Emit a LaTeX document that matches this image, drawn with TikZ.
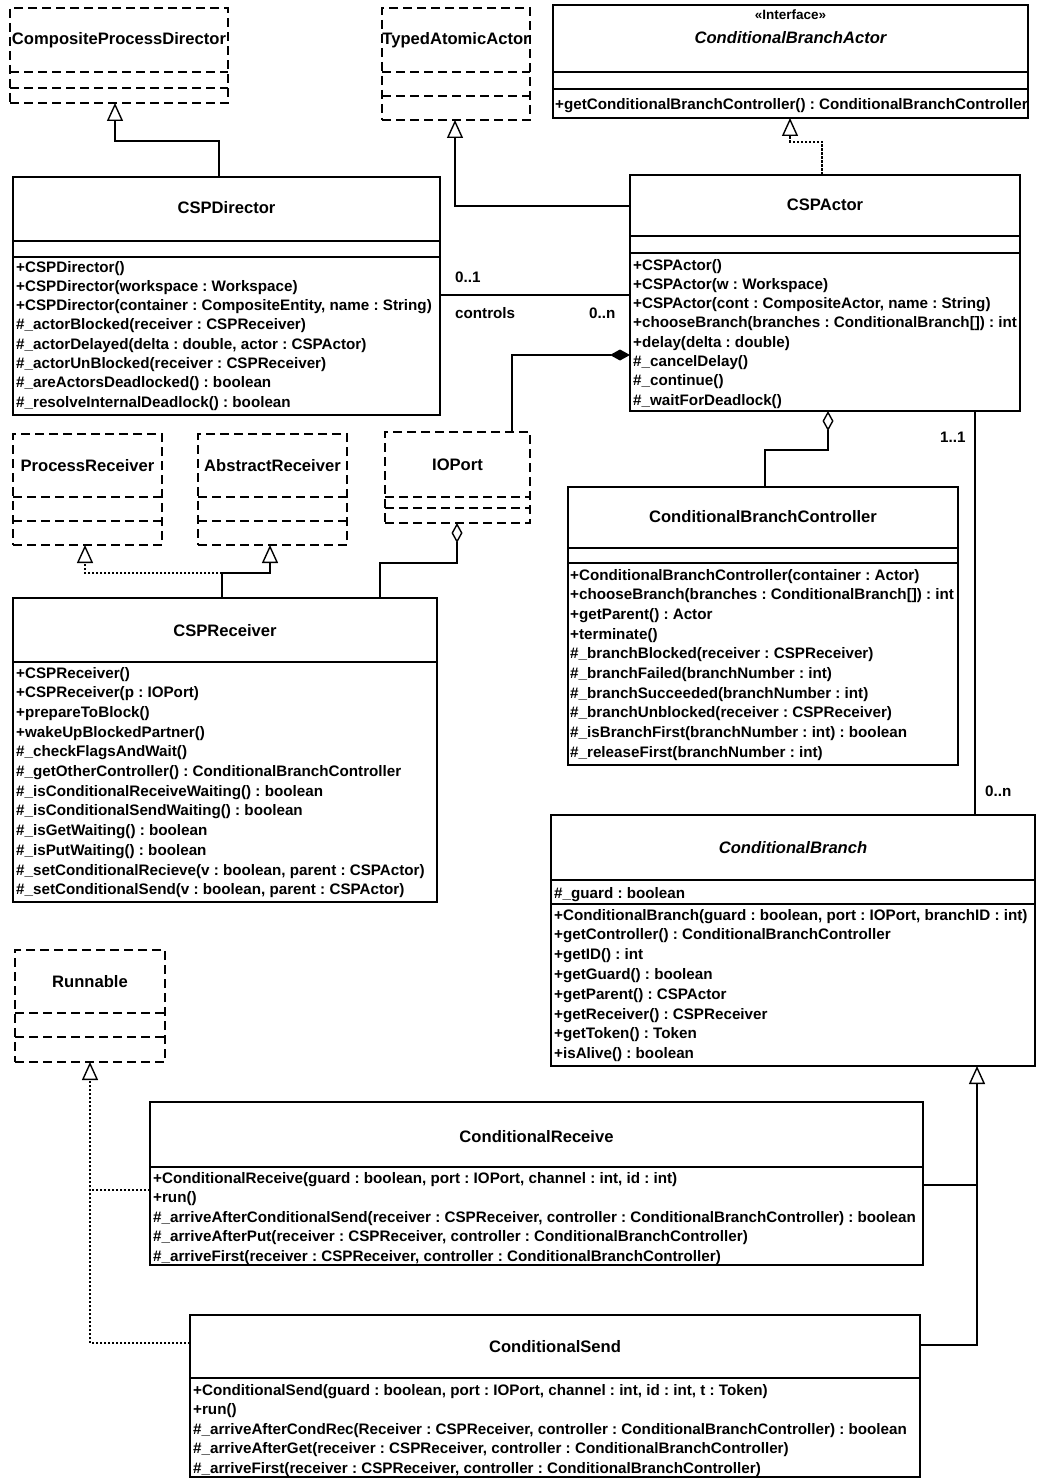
\documentclass[tikz,border=0pt]{standalone}
\usepackage{fontspec}
\setmainfont{Liberation Sans}
\usetikzlibrary{arrows.meta,calc}
\newcommand\mfont{\fontsize{15.2}{19}\selectfont\bfseries}
\newcommand\tfont{\fontsize{16.6}{20}\selectfont\bfseries}
\newcommand\sfont{\fontsize{13.5}{16}\selectfont\bfseries}
% box: [style]{name}{x1}{y1}{x2}{y2}
\newcommand\umlcls[6][box]{\node[#1, minimum width={(#5-#3)*1pt}, minimum height={(#6-#4)*1pt}] (#2) at (#3,#4) {};}
% separator: [style]{node}{y}
\newcommand\umlsep[3][sep]{\draw[#1] (#2.west |- 0,#3) -- (#2.east |- 0,#3);}
% methods: {prefix}{x}{y0}{step}{list}
\newcommand\umlmeth[5]{\foreach \t [count=\i from 0] in {#5} {\node[meth, name=#1-\i] at (#2,{#3+#4*\i}) {\t};}}
\begin{document}
\frenchspacing
\begin{tikzpicture}[x=1pt,y=-1pt,
  box/.style={draw, line width=1.8pt, inner sep=0pt, outer sep=0pt, anchor=north west, fill=white},
  dbox/.style={box, dash pattern=on 9pt off 5pt},
  sep/.style={line width=1.8pt},
  dsep/.style={line width=1.8pt, dash pattern=on 9pt off 5pt},
  ttl/.style={font=\tfont, inner sep=0pt},
  meth/.style={font=\mfont, inner sep=0pt, anchor=base west},
  conn/.style={line width=1.4pt},
  real/.style={line width=1.4pt, dash pattern=on 2.5pt off 1.5pt},
  gen/.style={-{Triangle[open,length=18pt,width=16pt,line width=1.4pt]}},
  agg/.style={{Diamond[open,length=20pt,width=11pt,line width=1.4pt]}-},
  comp/.style={{Diamond[length=20pt,width=11pt]}-}
]
\useasboundingbox (0,0) rectangle (1038,1479);
\fill[white] (0,0) rectangle (1038,1479);

% ---------- classes ----------
% CompositeProcessDirector
\umlcls[dbox]{cpd}{10}{8}{228}{103}
\node[ttl] (cpd-t) at (cpd.center |- 0,40) {CompositeProcessDirector};
\umlsep[dsep]{cpd}{72}
\umlsep[dsep]{cpd}{88}

% TypedAtomicActor
\umlcls[dbox]{taa}{382}{8}{530}{120}
\node[ttl] (taa-t) at (taa.center |- 0,40) {TypedAtomicActor};
\umlsep[dsep]{taa}{72}
\umlsep[dsep]{taa}{96}

% ConditionalBranchActor
\umlcls{cba}{553}{5}{1028}{118}
\node[font=\sfont, inner sep=0pt] (cba-s) at (cba.center |- 0,15) {«Interface»};
\node[ttl, font=\tfont\itshape] (cba-t) at (cba.center |- 0,38) {ConditionalBranchActor};
\umlsep{cba}{72}
\umlsep{cba}{89}
\node[meth] (cba-m) at (555,110) {+getConditionalBranchController() : ConditionalBranchController};

% CSPDirector
\umlcls{cspdir}{13}{177}{440}{415}
\node[ttl] (cspdir-t) at (cspdir.center |- 0,208) {CSPDirector};
\umlsep{cspdir}{241}
\umlsep{cspdir}{257}
\umlmeth{cspdir-m}{16}{272}{19.3}{{+CSPDirector()},{+CSPDirector(workspace : Workspace)},{+CSPDirector(container : CompositeEntity, name : String)},{\#\_actorBlocked(receiver : CSPReceiver)},{\#\_actorDelayed(delta : double, actor : CSPActor)},{\#\_actorUnBlocked(receiver : CSPReceiver)},{\#\_areActorsDeadlocked() : boolean},{\#\_resolveInternalDeadlock() : boolean}}

% CSPActor
\umlcls{cspactor}{630}{175}{1020}{411}
\node[ttl] (cspactor-t) at (cspactor.center |- 0,205) {CSPActor};
\umlsep{cspactor}{236}
\umlsep{cspactor}{253}
\umlmeth{cspactor-m}{633}{270}{19.3}{{+CSPActor()},{+CSPActor(w : Workspace)},{+CSPActor(cont : CompositeActor, name : String)},{+chooseBranch(branches : ConditionalBranch[]) : int},{+delay(delta : double)},{\#\_cancelDelay()},{\#\_continue()},{\#\_waitForDeadlock()}}

% ProcessReceiver
\umlcls[dbox]{procrecv}{13}{434}{162}{545}
\node[ttl] (procrecv-t) at (procrecv.center |- 0,466) {ProcessReceiver};
\umlsep[dsep]{procrecv}{497}
\umlsep[dsep]{procrecv}{521}

% AbstractReceiver
\umlcls[dbox]{absrecv}{198}{434}{347}{545}
\node[ttl] (absrecv-t) at (absrecv.center |- 0,466) {AbstractReceiver};
\umlsep[dsep]{absrecv}{497}
\umlsep[dsep]{absrecv}{521}

% IOPort
\umlcls[dbox]{ioport}{385}{432}{530}{523}
\node[ttl] (ioport-t) at (ioport.center |- 0,465) {IOPort};
\umlsep[dsep]{ioport}{497}
\umlsep[dsep]{ioport}{508}

% CSPReceiver
\umlcls{csprecv}{13}{598}{437}{902}
\node[ttl] (csprecv-t) at (csprecv.center |- 0,631) {CSPReceiver};
\umlsep{csprecv}{662}
\umlmeth{csprecv-m}{16}{678}{19.7}{{+CSPReceiver()},{+CSPReceiver(p : IOPort)},{+prepareToBlock()},{+wakeUpBlockedPartner()},{\#\_checkFlagsAndWait()},{\#\_getOtherController() : ConditionalBranchController},{\#\_isConditionalReceiveWaiting() : boolean},{\#\_isConditionalSendWaiting() : boolean},{\#\_isGetWaiting() : boolean},{\#\_isPutWaiting() : boolean},{\#\_setConditionalRecieve(v : boolean, parent : CSPActor)},{\#\_setConditionalSend(v : boolean, parent : CSPActor)}}

% ConditionalBranchController
\umlcls{cbc}{568}{487}{958}{765}
\node[ttl] (cbc-t) at (cbc.center |- 0,517) {ConditionalBranchController};
\umlsep{cbc}{548}
\umlsep{cbc}{563}
\umlmeth{cbc-m}{570}{580}{19.7}{{+ConditionalBranchController(container : Actor)},{+chooseBranch(branches : ConditionalBranch[]) : int},{+getParent() : Actor},{+terminate()},{\#\_branchBlocked(receiver : CSPReceiver)},{\#\_branchFailed(branchNumber : int)},{\#\_branchSucceeded(branchNumber : int)},{\#\_branchUnblocked(receiver : CSPReceiver)},{\#\_isBranchFirst(branchNumber : int) : boolean},{\#\_releaseFirst(branchNumber : int)}}

% ConditionalBranch
\umlcls{cb}{551}{815}{1035}{1066}
\node[ttl, font=\tfont\itshape] (cb-t) at (cb.center |- 0,848) {ConditionalBranch};
\umlsep{cb}{880}
\node[meth] (cb-a) at (554,898) {\#\_guard : boolean};
\umlsep{cb}{904}
\umlmeth{cb-m}{554}{920}{19.8}{{+ConditionalBranch(guard : boolean, port : IOPort, branchID : int)},{+getController() : ConditionalBranchController},{+getID() : int},{+getGuard() : boolean},{+getParent() : CSPActor},{+getReceiver() : CSPReceiver},{+getToken() : Token},{+isAlive() : boolean}}

% Runnable
\umlcls[dbox]{runnable}{15}{950}{165}{1062}
\node[ttl] (runnable-t) at (runnable.center |- 0,982) {Runnable};
\umlsep[dsep]{runnable}{1013}
\umlsep[dsep]{runnable}{1037}

% ConditionalReceive
\umlcls{cr}{150}{1102}{923}{1265}
\node[ttl] (cr-t) at (cr.center |- 0,1137) {ConditionalReceive};
\umlsep{cr}{1167}
\umlmeth{cr-m}{153}{1183}{19.6}{{+ConditionalReceive(guard : boolean, port : IOPort, channel : int, id : int)},{+run()},{\#\_arriveAfterConditionalSend(receiver : CSPReceiver, controller : ConditionalBranchController) : boolean},{\#\_arriveAfterPut(receiver : CSPReceiver, controller : ConditionalBranchController)},{\#\_arriveFirst(receiver : CSPReceiver, controller : ConditionalBranchController)}}

% ConditionalSend
\umlcls{cs}{190}{1315}{920}{1477}
\node[ttl] (cs-t) at (cs.center |- 0,1347) {ConditionalSend};
\umlsep{cs}{1378}
\umlmeth{cs-m}{193}{1395}{19.6}{{+ConditionalSend(guard : boolean, port : IOPort, channel : int, id : int, t : Token)},{+run()},{\#\_arriveAfterCondRec(Receiver : CSPReceiver, controller : ConditionalBranchController) : boolean},{\#\_arriveAfterGet(receiver : CSPReceiver, controller : ConditionalBranchController)},{\#\_arriveFirst(receiver : CSPReceiver, controller : ConditionalBranchController)}}

% ---------- connectors ----------
\draw[conn,gen] (219,0 |- cspdir.north) -- (219,141) -- (115,141) -- (115,0 |- cpd.south);
\draw[conn,gen] (cspactor.west |- 0,206) -- (455,206) -- (455,0 |- taa.south);
\draw[real,gen] (822,0 |- cspactor.north) -- (822,142) -- (790,142) -- (790,0 |- cba.south);

\draw[conn] (cspdir.east |- 0,295) -- (cspactor.west |- 0,295);
\node[meth] (lab1) at (455,282) {0..1};
\node[meth] (lab2) at (455,318) {controls};
\node[meth] (lab3) at (589,318) {0..n};

\draw[conn,comp] (cspactor.west |- 0,355) -- (512,355) -- (512,0 |- ioport.north);

\coordinate (j1) at (222,573);
\draw[conn] (222,0 |- csprecv.north) -- (j1);
\draw[conn,gen] (j1) -- (270,573) -- (270,0 |- absrecv.south);
\draw[real,gen] (j1) -- (85,573) -- (85,0 |- procrecv.south);

\draw[conn,agg] (457,0 |- ioport.south) -- (457,563) -- (380,563) -- (380,0 |- csprecv.north);
\draw[conn,agg] (828,0 |- cspactor.south) -- (828,450) -- (765,450) -- (765,0 |- cbc.north);

\draw[conn] (975,0 |- cspactor.south) -- (975,0 |- cb.north);
\node[meth] (lab4) at (940,442) {1..1};
\node[meth] (lab5) at (985,796) {0..n};

\draw[conn,gen] (cs.east |- 0,1345) -- (977,1345) -- (977,0 |- cb.south);
\draw[conn] (cr.east |- 0,1185) -- (977,1185);

\draw[real,gen] (cs.west |- 0,1343) -- (90,1343) -- (90,0 |- runnable.south);
\draw[real] (cr.west |- 0,1190) -- (90,1190);
\end{tikzpicture}
\end{document}
